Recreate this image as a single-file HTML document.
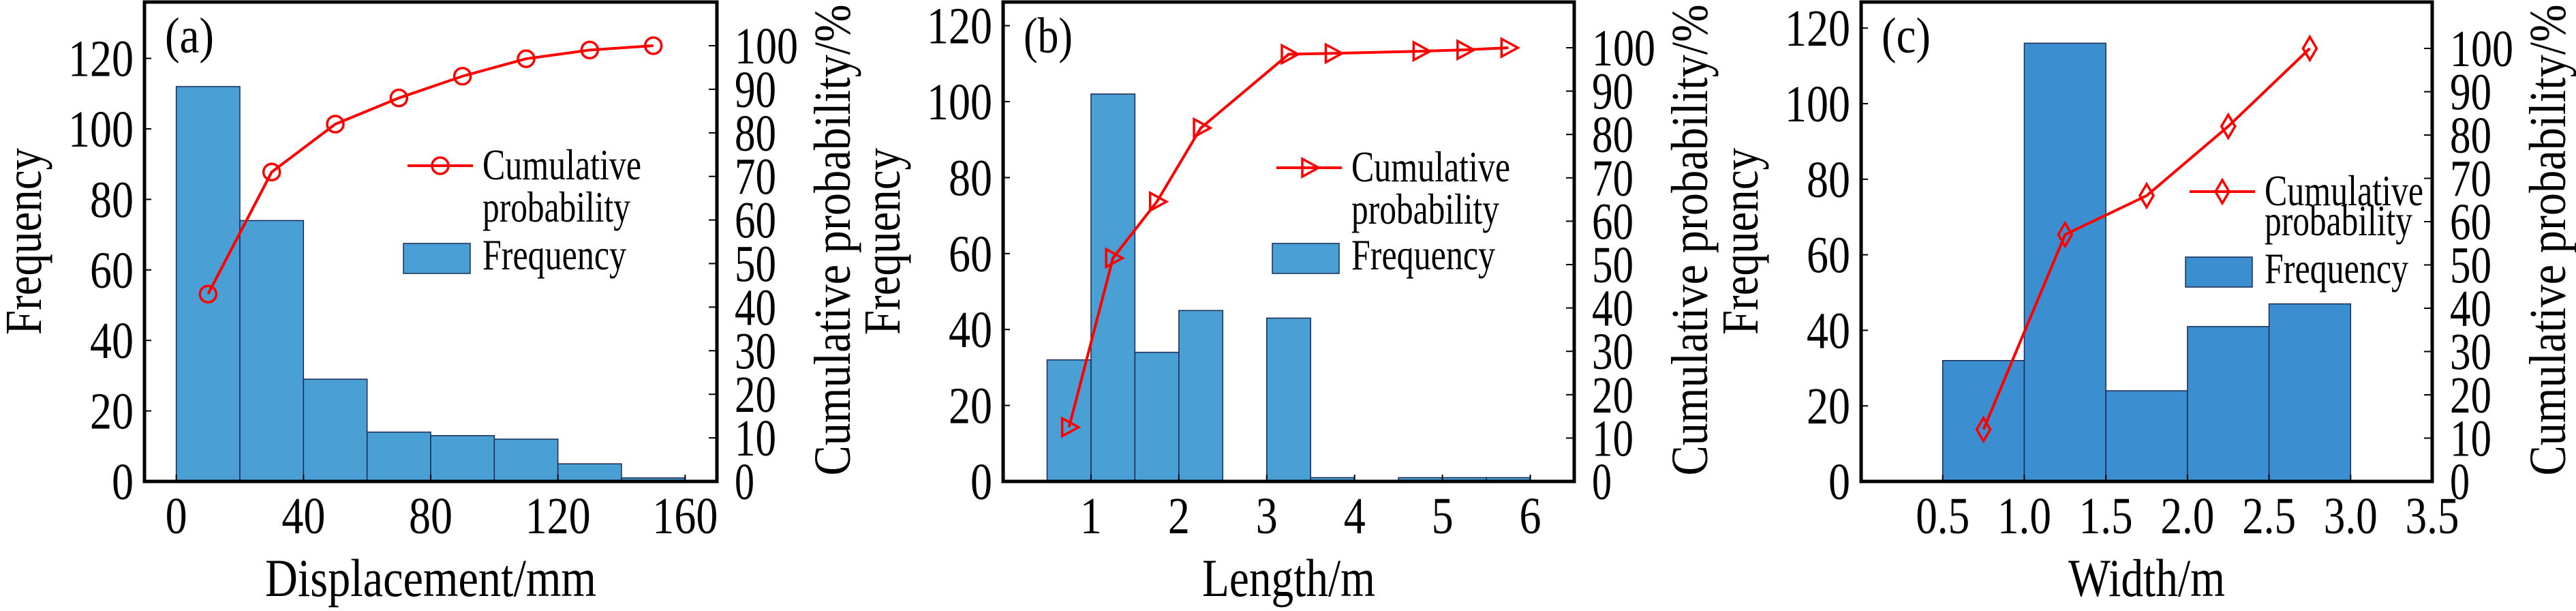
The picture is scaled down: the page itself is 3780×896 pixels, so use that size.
<!DOCTYPE html>
<html><head><meta charset="utf-8"><style>
html,body{margin:0;padding:0;background:#fff;}
svg{display:block;}
text{font-family:"Liberation Serif",serif;fill:#000;}
</style></head><body>
<svg id="chart" width="3780" height="896" viewBox="0 0 3780 896" xmlns="http://www.w3.org/2000/svg"></svg>
<script>
// Panel (a)
const aBinStarts=[0,20,40,60,80,100,120,140];
const aFreq=[112,74,29,14,13,12,5,1];
const aCumX=[10,30,50,70,90,110,130,150];
const aCum=[43,71,82,88,93,97,99,100];
const aXTicks=[0,40,80,120,160];
// Panel (b)
const bBinStarts=[0.5,1,1.5,2,2.5,3,3.5,4,4.5,5,5.5];
const bFreq=[32,102,34,45,0,43,1,0,1,1,1];
const bCumX=[0.75,1.25,1.75,2.25,3.25,3.75,4.75,5.25,5.75];
const bCum=[12.5,51.5,64.5,81.5,98.5,98.7,99.2,99.5,100];
const bXTicks=[1,2,3,4,5,6];
// Panel (c)
const cBinStarts=[0.5,1,1.5,2,2.5];
const cFreq=[32,116,24,41,47];
const cCumX=[0.75,1.25,1.75,2.25,2.75];
const cCum=[12,57,66,82,100];
const cXTicks=["0.5","1.0","1.5","2.0","2.5","3.0","3.5"];
const freqTicks=[0,20,40,60,80,100,120];
const cumTicks=[0,10,20,30,40,50,60,70,80,90,100];

const NS="http://www.w3.org/2000/svg";
const svg=document.getElementById('chart');
function mk(tag,attrs,parent){const e=document.createElementNS(NS,tag);for(const k in attrs)e.setAttribute(k,attrs[k]);(parent||svg).appendChild(e);return e;}
function numW(s){let w=0;for(const ch of String(s))w+=(ch==='.'?15:32);return w;}
function txt(parent,str,attrs,len){
  const t=mk('text',attrs,parent);
  t.textContent=str;
  if(len){t.setAttribute('textLength',len);t.setAttribute('lengthAdjust','spacingAndGlyphs');}
  return t;
}

function panel(cfg){
  const g=mk('g',{});
  
  
  const L=cfg.left,R=cfg.right,T=3,B=706;
  const x=v=>L+(v-cfg.xmin)/(cfg.xmax-cfg.xmin)*(R-L);
  const yF=v=>B-v*cfg.fScale;
  const yC=v=>B-v*cfg.cScale;
  cfg.bins.forEach((s,i)=>{
    if(cfg.freq[i]<=0)return;
    const r=mk('rect',{x:x(s),y:yF(cfg.freq[i]),width:x(s+cfg.bw)-x(s),height:B-yF(cfg.freq[i]),fill:cfg.color,stroke:'#1a2a55','stroke-width':1.5},g);
    
    
  });
  const fr=mk('rect',{x:L,y:T,width:R-L,height:B-T,fill:'none',stroke:'#000','stroke-width':5},g);
  
  
  freqTicks.forEach(t=>{
    if(yF(t)<T)return;
    mk('line',{x1:L,x2:L+10,y1:yF(t),y2:yF(t),stroke:'#000','stroke-width':2},g);
    const tx=txt(g,t,{x:L-16,y:yF(t)+26,'font-size':76,'text-anchor':'end'},numW(t));
    
    
  });
  cumTicks.forEach(t=>{
    mk('line',{x1:R-12,x2:R,y1:yC(t),y2:yC(t),stroke:'#000','stroke-width':2},g);
    const tx=txt(g,t,{x:R+26,y:yC(t)+26,'font-size':76},numW(t)-3);
    
    
  });
  cfg.xticks.forEach(t=>{
    const v=parseFloat(t);
    mk('line',{x1:x(v),x2:x(v),y1:B,y2:B-10,stroke:'#000','stroke-width':2},g);
    const tx=txt(g,t,{x:x(v),y:782,'font-size':76,'text-anchor':'middle'},numW(t));
    
    
  });
  const pts=cfg.cumX.map((v,i)=>x(v)+','+yC(cfg.cum[i])).join(' ');
  const pl=mk('polyline',{points:pts,fill:'none',stroke:'#ff0000','stroke-width':4},g);
  
  
  function marker(cx,cy,parent){
    let m;
    if(cfg.marker==='circle')m=mk('circle',{cx:cx,cy:cy,r:12,fill:'none',stroke:'#ff0000','stroke-width':3.5},parent);
    else if(cfg.marker==='tri')m=mk('polygon',{points:`${cx-10},${cy-13} ${cx+14},${cy} ${cx-10},${cy+13}`,fill:'none',stroke:'#ff0000','stroke-width':3.5},parent);
    else m=mk('polygon',{points:`${cx},${cy-17} ${cx+10},${cy} ${cx},${cy+17} ${cx-10},${cy}`,fill:'none',stroke:'#ff0000','stroke-width':3.5},parent);
    return m;
  }
  cfg.cumX.forEach((v,i)=>{
    const m=marker(x(v),yC(cfg.cum[i]),g);
    
    
  });
  const pl2=txt(g,'('+cfg.id+')',{x:L+30,y:77,'font-size':74},72);
  
  
  const xt=txt(g,cfg.xtitle,{x:(L+R)/2,y:874,'font-size':78,'text-anchor':'middle'},cfg.xtw);
  
  
  const yt=txt(g,'Frequency',{x:0,y:0,'font-size':76,'text-anchor':'middle',transform:`translate(${L-152},354) rotate(-90)`},274);
  
  
  const y2=txt(g,'Cumulative probability/%',{x:0,y:0,'font-size':76,'text-anchor':'middle',transform:`translate(${R+195},352) rotate(-90)`},691);
  
  
  const lg=mk('g',{},g);
  
  
  const Lx=cfg.leg.x,Ly=cfg.leg.y;
  mk('line',{x1:Lx,x2:Lx+96,y1:Ly,y2:Ly,stroke:'#ff0000','stroke-width':4},lg);
  marker(Lx+48,Ly,lg);
  const t1=txt(lg,'Cumulative',{x:Lx+110,y:Ly+cfg.leg.d1,'font-size':64},233);
  
  
  txt(lg,'probability',{x:Lx+110,y:Ly+cfg.leg.d1+cfg.leg.dy,'font-size':64},217);
  const pr=mk('rect',{x:Lx-6,y:cfg.leg.py,width:98,height:44,fill:cfg.color,stroke:'#1a2a55','stroke-width':1.5},lg);
  
  
  const t3=txt(lg,'Frequency',{x:Lx+110,y:cfg.leg.py+38,'font-size':64},211);
  
  
}

panel({id:'a',left:212,right:1052,xmin:-10,xmax:170,bins:aBinStarts,bw:20,freq:aFreq,cumX:aCumX,cum:aCum,xticks:aXTicks,fScale:5.17,cScale:6.39,color:'#4a9fd4',marker:'circle',xtitle:'Displacement/mm',xtw:486,leg:{x:598,y:243,d1:20,dy:62,py:357}});
panel({id:'b',left:1472,right:2310,xmin:0,xmax:6.5,bins:bBinStarts,bw:0.5,freq:bFreq,cumX:bCumX,cum:bCum,xticks:bXTicks,fScale:5.57,cScale:6.36,color:'#4a9fd4',marker:'tri',xtitle:'Length/m',xtw:254,leg:{x:1873,y:246,d1:20,dy:62,py:357}});
panel({id:'c',left:2731,right:3569,xmin:0,xmax:3.5,bins:cBinStarts,bw:0.5,freq:cFreq,cumX:cCumX,cum:cCum,xticks:cXTicks,fScale:5.54,cScale:6.35,color:'#3b8fd0',marker:'diamond',xtitle:'Width/m',xtw:230,leg:{x:3213,y:281,d1:20,dy:44,py:377}});
</script>
</body></html>
